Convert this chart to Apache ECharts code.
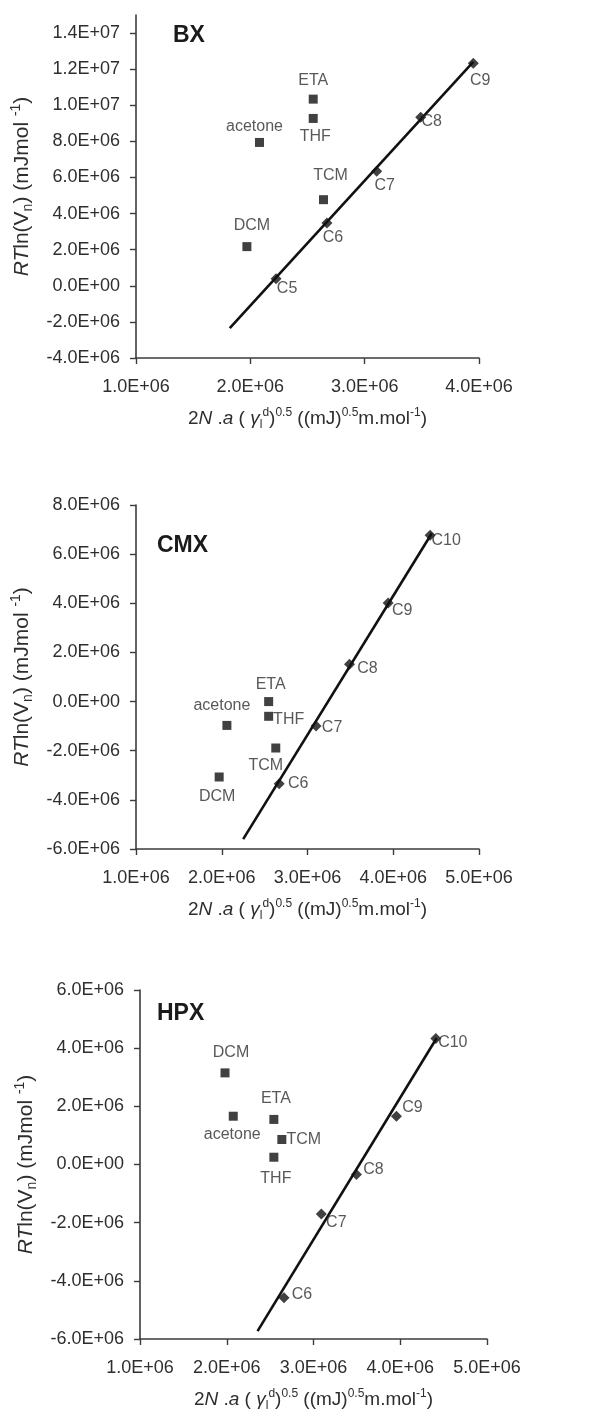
<!DOCTYPE html>
<html>
<head>
<meta charset="utf-8">
<title>Inverse gas chromatography: RTln(Vn) vs 2N.a(γl d)^0.5</title>
<script src="https://cdn.jsdelivr.net/npm/echarts@6/dist/echarts.min.js"></script>
<style>
  html, body { margin: 0; padding: 0; background: #ffffff; }
  #chart { width: 613px; height: 1415px; }
</style>
</head>
<body>
<div id="chart"></div>
<script>
// ---- data -------------------------------------------------------------
const panelNames = ['BX', 'CMX', 'HPX'];
const solventNames = ['DCM', 'acetone', 'ETA', 'THF', 'TCM'];

// BX
const bxAlkaneNames = ['C5', 'C6', 'C7', 'C8', 'C9'];
const bxAlkaneX = [2.225e6, 2.67e6, 3.105e6, 3.49e6, 3.95e6];
const bxAlkaneY = [0.39e6, 3.48e6, 6.34e6, 9.34e6, 12.33e6];
const bxSolventX = [1.97e6, 2.08e6, 2.55e6, 2.55e6, 2.64e6];
const bxSolventY = [2.17e6, 7.94e6, 10.34e6, 9.27e6, 4.77e6];
const bxFitLine = [[1.82e6, -2.35e6], [3.95e6, 12.4e6]];

// CMX
const cmxAlkaneNames = ['C6', 'C7', 'C8', 'C9', 'C10'];
const cmxAlkaneX = [2.67e6, 3.10e6, 3.49e6, 3.94e6, 4.43e6];
const cmxAlkaneY = [-3.34e6, -0.99e6, 1.52e6, 4.01e6, 6.77e6];
const cmxSolventX = [1.97e6, 2.06e6, 2.547e6, 2.547e6, 2.63e6];
const cmxSolventY = [-3.07e6, -0.97e6, 0.0, -0.6e6, -1.89e6];
const cmxFitLine = [[2.25e6, -5.6e6], [4.45e6, 6.85e6]];

// HPX
const hpxAlkaneNames = ['C6', 'C7', 'C8', 'C9', 'C10'];
const hpxAlkaneX = [2.66e6, 3.09e6, 3.495e6, 3.956e6, 4.41e6];
const hpxAlkaneY = [-4.58e6, -1.70e6, -0.34e6, 1.66e6, 4.33e6];
const hpxSolventX = [1.98e6, 2.075e6, 2.543e6, 2.543e6, 2.635e6];
const hpxSolventY = [3.15e6, 1.66e6, 1.55e6, 0.25e6, 0.86e6];
const hpxFitLine = [[2.355e6, -5.73e6], [4.42e6, 4.35e6]];

// axis ranges and tick values
const xRanges = [[1e6, 4e6], [1e6, 5e6], [1e6, 5e6]];
const yRanges = [[-4e6, 1.5e7], [-6e6, 8e6], [-6e6, 6e6]];
const yTicksBX = [-4e6, -2e6, 0, 2e6, 4e6, 6e6, 8e6, 10e6, 12e6, 14e6];
const yTicksCMX = [-6e6, -4e6, -2e6, 0, 2e6, 4e6, 6e6, 8e6];
const yTicksHPX = [-6e6, -4e6, -2e6, 0, 2e6, 4e6, 6e6];
const xTicks4 = [1e6, 2e6, 3e6, 4e6];
const xTicks5 = [1e6, 2e6, 3e6, 4e6, 5e6];

// ---- layout / style ---------------------------------------------------
const grids = [
  { left: 136, top: 15, width: 343, height: 343 },
  { left: 136, top: 505, width: 343, height: 344 },
  { left: 140, top: 990, width: 347, height: 349 }
];
const panelTitlePos = [[173, 24], [157, 534], [157, 1002]];

// label offsets [dx, dy] from each marker centre
const labelOffsets = {
  BX: { DCM: [5, -21], acetone: [-5, -16], ETA: [0, -19], THF: [2, 18], TCM: [7, -24],
        C5: [11, 10], C6: [6, 15], C7: [8, 14], C8: [11, 4], C9: [7, 17] },
  CMX: { DCM: [-2, 20], acetone: [-5, -20], ETA: [2, -17], THF: [20, 3], TCM: [-10, 18],
         C6: [19, 0], C7: [16, 2], C8: [18, 4], C9: [14, 8], C10: [16, 5] },
  HPX: { DCM: [6, -20], acetone: [-1, 18], ETA: [2, -21], THF: [2, 21], TCM: [22, 0],
         C6: [18, -3], C7: [15, 9], C8: [17, -5], C9: [16, -9], C10: [17, 4] }
};

const FONT = "'Liberation Sans', Arial, Helvetica, sans-serif";
const TEXT = '#2e2e2e';
const AXIS = '#3c3c3c';
const MARK = '#111111';

function sci(v) {
  if (v === 0) return '0.0E+00';
  const sign = v < 0 ? '-' : '';
  const a = Math.abs(v);
  let e = Math.floor(Math.log10(a) + 1e-9);
  let m = a / Math.pow(10, e);
  let ms = m.toFixed(1);
  if (ms === '10.0') { e += 1; ms = '1.0'; }
  return sign + ms + 'E' + (e >= 0 ? '+' : '-') + String(Math.abs(e)).padStart(2, '0');
}

function richSet(size, supSize, lh) {
  return {
    n: { fontSize: size, lineHeight: lh, color: TEXT, fontFamily: FONT },
    i: { fontSize: size, lineHeight: lh, color: TEXT, fontFamily: FONT, fontStyle: 'italic' },
    sup: { fontSize: supSize, lineHeight: supSize, verticalAlign: 'top', color: TEXT, fontFamily: FONT },
    sub: { fontSize: supSize, lineHeight: supSize, verticalAlign: 'bottom', color: TEXT, fontFamily: FONT }
  };
}
const richX = richSet(19, 12, 24);
const richY = richSet(21, 14, 26);

const xName = '{n|2}{i|N}{n| .}{i|a}{n| ( }{i|γ}{sub|l}{sup|d}{n|)}{sup|0.5}{n| ((mJ)}{sup|0.5}{n|m.mol}{sup|-1}{n|)}';
const yName = '{i|RT}{n|ln(V}{sub|n}{n|) (mJmol }{sup|-1}{n|)}';

function makeXAxis(idx, ticks) {
  return {
    type: 'value', gridIndex: idx,
    min: xRanges[idx][0], max: xRanges[idx][1], interval: 1e6,
    name: xName, nameLocation: 'middle', nameGap: 49,
    nameTextStyle: { rich: richX, fontSize: 19, color: TEXT, fontFamily: FONT },
    axisLine: { show: true, onZero: false, lineStyle: { color: AXIS, width: 1.6 } },
    axisTick: { show: true, inside: false, length: 6, lineStyle: { color: AXIS, width: 1.4 }, customValues: ticks },
    axisLabel: { show: true, margin: 20, fontSize: 18, color: TEXT, fontFamily: FONT,
                 customValues: ticks, formatter: sci },
    splitLine: { show: false }
  };
}

function makeYAxis(idx, ticks) {
  return {
    type: 'value', gridIndex: idx,
    min: yRanges[idx][0], max: yRanges[idx][1], interval: 2e6,
    name: yName, nameLocation: 'middle', nameRotate: 90, nameGap: 97,
    nameTextStyle: { rich: richY, fontSize: 21, color: TEXT, fontFamily: FONT },
    axisLine: { show: true, onZero: false, lineStyle: { color: AXIS, width: 1.6 } },
    axisTick: { show: true, inside: false, length: 6, lineStyle: { color: AXIS, width: 1.4 }, customValues: ticks },
    axisLabel: { show: true, margin: 16, fontSize: 18, color: TEXT, fontFamily: FONT,
                 customValues: ticks, formatter: sci },
    splitLine: { show: false }
  };
}

function points(names, xs, ys, panel) {
  return names.map((nm, k) => {
    const off = labelOffsets[panel][nm] || [0, 0];
    return {
      name: nm,
      value: [xs[k], ys[k]],
      label: { offset: off }
    };
  });
}

const pointLabel = {
  show: true, position: 'inside', formatter: '{b}',
  fontSize: 16, color: TEXT, fontFamily: FONT
};

const panels = [
  { name: 'BX', aN: bxAlkaneNames, aX: bxAlkaneX, aY: bxAlkaneY, sX: bxSolventX, sY: bxSolventY, fit: bxFitLine },
  { name: 'CMX', aN: cmxAlkaneNames, aX: cmxAlkaneX, aY: cmxAlkaneY, sX: cmxSolventX, sY: cmxSolventY, fit: cmxFitLine },
  { name: 'HPX', aN: hpxAlkaneNames, aX: hpxAlkaneX, aY: hpxAlkaneY, sX: hpxSolventX, sY: hpxSolventY, fit: hpxFitLine }
];

const series = [];
panels.forEach((p, idx) => {
  series.push({
    type: 'line', name: p.name + ' fit', xAxisIndex: idx, yAxisIndex: idx,
    data: p.fit, showSymbol: false, symbol: 'none', silent: true,
    lineStyle: { color: MARK, width: 2.6 }, z: 3
  });
  series.push({
    type: 'scatter', name: p.name + ' n-alkanes', xAxisIndex: idx, yAxisIndex: idx,
    symbol: 'diamond', symbolSize: 11,
    itemStyle: { color: MARK },
    label: pointLabel,
    data: points(p.aN, p.aX, p.aY, p.name), z: 4
  });
  series.push({
    type: 'scatter', name: p.name + ' polar probes', xAxisIndex: idx, yAxisIndex: idx,
    symbol: 'rect', symbolSize: 9,
    itemStyle: { color: MARK },
    label: pointLabel,
    data: points(solventNames, p.sX, p.sY, p.name), z: 4
  });
});

const chart = echarts.init(document.getElementById('chart'), null, { renderer: 'canvas' });
chart.setOption({
  animation: false,
  backgroundColor: '#ffffff',
  title: panelNames.map((t, i) => ({
    text: t, left: panelTitlePos[i][0], top: panelTitlePos[i][1], padding: 0,
    textStyle: { fontSize: 23, fontWeight: 'bold', color: '#1a1a1a', fontFamily: FONT }
  })),
  grid: grids,
  xAxis: [makeXAxis(0, xTicks4), makeXAxis(1, xTicks5), makeXAxis(2, xTicks5)],
  yAxis: [makeYAxis(0, yTicksBX), makeYAxis(1, yTicksCMX), makeYAxis(2, yTicksHPX)],
  series: series
});
</script>
</body>
</html>
